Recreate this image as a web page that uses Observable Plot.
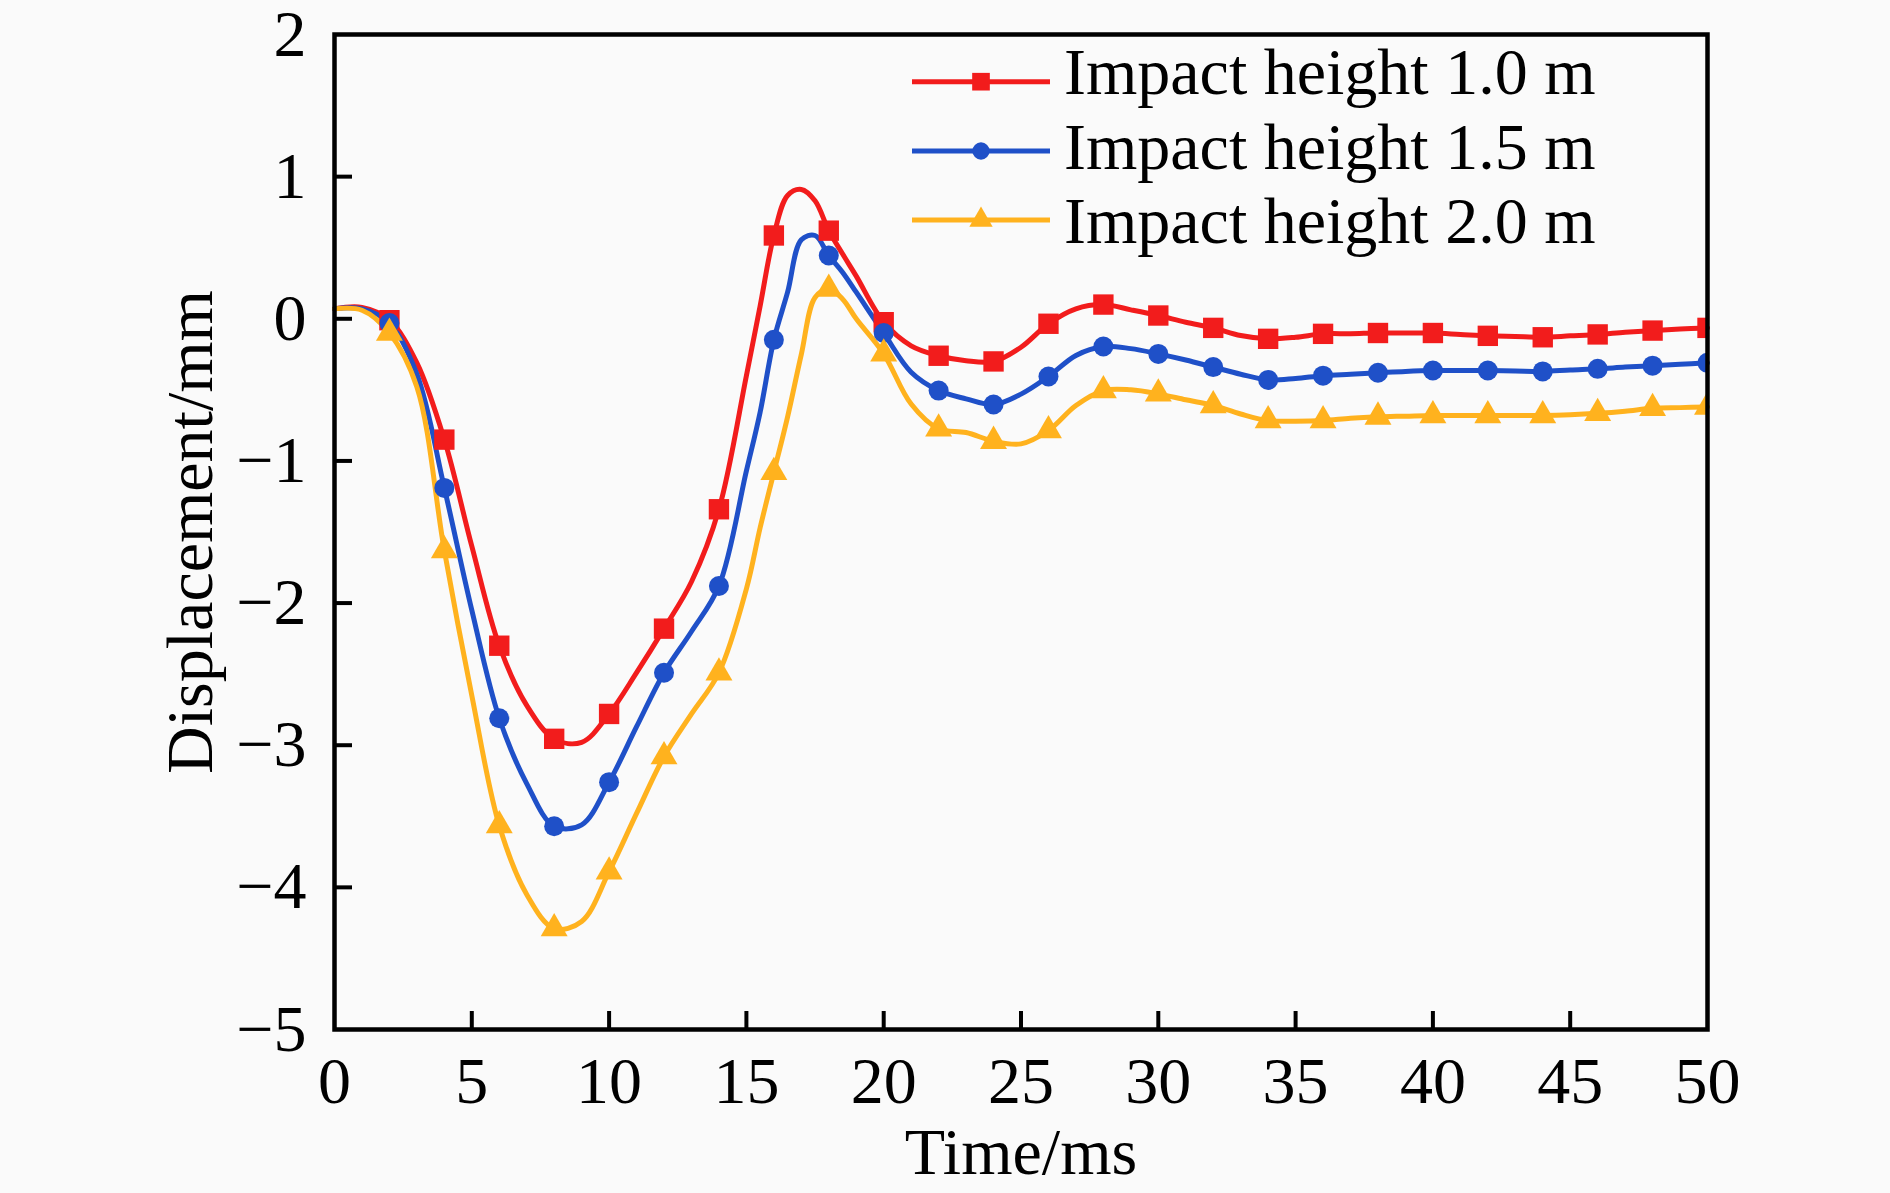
<!DOCTYPE html>
<html><head><meta charset="utf-8">
<script src="https://cdn.jsdelivr.net/npm/d3@7"></script>
<script src="https://cdn.jsdelivr.net/npm/@observablehq/plot@0.6"></script>
<style>html,body{margin:0;padding:0;background:#fafafa;} svg{display:block;}</style>
</head><body><div id="chart"></div>
<script>
// time axis (ms)
const time = [0,1,2,3,4,5,6,7,8,9,10,11,12,13,14,15,15.5,16,16.5,17,17.5,18,18.5,19,
  20,21,22,23,24,25,26,27,28,29,30,31,32,33,34,35,36,37,38,39,40,41,42,43,44,45,46,47,48,49,50];
// Displacement (mm)
const h10 = [0.07,0.08,-0.01,-0.31,-0.85,-1.60,-2.30,-2.72,-2.955,-2.98,-2.78,-2.49,-2.18,-1.85,-1.34,-0.40,
  0.09,0.586,0.867,0.91,0.83,0.62,0.457,0.30,
  -0.024,-0.19,-0.26,-0.295,-0.30,-0.20,-0.035,0.07,0.10,0.063,0.023,-0.024,-0.064,-0.118,-0.141,-0.13,
  -0.106,-0.105,-0.10,-0.10,-0.10,-0.11,-0.12,-0.125,-0.13,-0.12,-0.11,-0.095,-0.083,-0.072,-0.064];
const h15 = [0.07,0.07,-0.03,-0.39,-1.19,-2.05,-2.81,-3.27,-3.57,-3.56,-3.26,-2.87,-2.49,-2.20,-1.88,-1.07,
  -0.657,-0.148,0.187,0.556,0.586,0.445,0.328,0.187,
  -0.10,-0.376,-0.505,-0.563,-0.603,-0.53,-0.406,-0.258,-0.195,-0.21,-0.247,-0.29,-0.34,-0.39,-0.43,-0.42,
  -0.40,-0.39,-0.38,-0.37,-0.364,-0.364,-0.364,-0.367,-0.37,-0.36,-0.352,-0.34,-0.33,-0.32,-0.31];
const h20 = [0.07,0.06,-0.10,-0.48,-1.63,-2.65,-3.565,-4.05,-4.29,-4.24,-3.89,-3.48,-3.08,-2.78,-2.49,-1.90,
  -1.47,-1.08,-0.69,-0.25,0.15,0.21,0.14,0.00,
  -0.246,-0.60,-0.774,-0.80,-0.861,-0.88,-0.786,-0.61,-0.505,-0.50,-0.528,-0.57,-0.61,-0.67,-0.716,-0.72,
  -0.716,-0.70,-0.69,-0.685,-0.68,-0.68,-0.68,-0.68,-0.68,-0.675,-0.665,-0.65,-0.63,-0.625,-0.62];

const seriesNames = ["Impact height 1.0 m","Impact height 1.5 m","Impact height 2.0 m"];
const seriesColors = ["#f21c1c","#1f50c8","#ffb21e"];
const seriesSymbols = ["square","circle","triangle"];
const seriesR = [11.5, 10, 10];
const xTicks = [0,5,10,15,20,25,30,35,40,45,50];
const yTicks = [-5,-4,-3,-2,-1,0,1,2];
const xLabel = "Time/ms";
const yLabel = "Displacement/mm";

const W = 1890, H = 1193;
const mL = 334, mR = 183, mT = 34, mB = 164;
const font = "'Liberation Serif','Times New Roman',serif";
const fs = 66;
const tickLen = 18;
const lw = 5;

const values = [h10, h15, h20];
const rows = [];
values.forEach((vals, i) => vals.forEach((v, j) => rows.push({t: time[j], v, s: seriesNames[i]})));
const markerRows = rows.filter(d => d.t > 0 && d.t % 2 === 0);
const fmt = d => d < 0 ? "\u2212" + Math.abs(d) : String(d);

const marks = [];
for (let i = 0; i < 3; i++) {
  marks.push(Plot.line(rows.filter(d => d.s === seriesNames[i]), {
    x: "t", y: "v", stroke: "s", strokeWidth: lw, curve: "catmull-rom"
  }));
}
for (let i = 0; i < 3; i++) {
  marks.push(Plot.dot(markerRows.filter(d => d.s === seriesNames[i]), {
    x: "t", y: "v", fill: "s", symbol: "s", r: seriesR[i], stroke: "none", clip: true
  }));
}

const frameW = W - mL - mR, frameH = H - mT - mB;

const chart = Plot.plot({
  width: W, height: H,
  marginLeft: mL, marginRight: mR, marginTop: mT, marginBottom: mB,
  style: {background: "#fafafa", fontFamily: font, color: "black", overflow: "visible"},
  x: {domain: [0, 50]},
  y: {domain: [-5, 2]},
  color: {domain: seriesNames, range: seriesColors},
  symbol: {domain: seriesNames, range: seriesSymbols},
  marks: [
    ...marks,
    Plot.tickX(xTicks.slice(1, -1), {x: d => d, stroke: "black", strokeWidth: 4, insetTop: frameH - tickLen}),
    Plot.tickY(yTicks.slice(1, -1), {y: d => d, stroke: "black", strokeWidth: 4, insetRight: frameW - tickLen}),
    Plot.frame({stroke: "black", strokeWidth: 4.5}),
    Plot.axisX({ticks: xTicks, tickSize: 0, tickPadding: 27, tickFormat: fmt, fontSize: fs, fontFamily: font, label: null}),
    Plot.axisY({ticks: yTicks, tickSize: 0, tickPadding: 28, tickFormat: fmt, fontSize: fs, fontFamily: font, label: null}),
    Plot.text([xLabel], {text: d => d, frameAnchor: "bottom", dy: 123, lineAnchor: "middle", textAnchor: "middle", fontSize: fs, fontFamily: font, fill: "black"}),
    Plot.text([yLabel], {text: d => d, frameAnchor: "left", dx: -144, rotate: -90, lineAnchor: "middle", textAnchor: "middle", fontSize: fs, fontFamily: font, fill: "black"})
  ]
});

// legend
const svg = d3.select(chart);
const lineYs = [81.7, 151, 220];
const textYs = [94, 168.5, 243];
const lg = svg.append("g").attr("text-anchor", "start");
seriesNames.forEach((name, i) => {
  lg.append("line").attr("x1", 912).attr("x2", 1050).attr("y1", lineYs[i]).attr("y2", lineYs[i])
    .attr("stroke", seriesColors[i]).attr("stroke-width", lw);
  const sym = {square: d3.symbolSquare, circle: d3.symbolCircle, triangle: d3.symbolTriangle}[seriesSymbols[i]];
  lg.append("path").attr("d", d3.symbol(sym, Math.PI * seriesR[i] * seriesR[i] * 0.75)())
    .attr("transform", `translate(981,${lineYs[i]})`).attr("fill", seriesColors[i]);
  lg.append("text").attr("x", 1064).attr("y", textYs[i]).attr("font-size", fs)
    .attr("text-anchor", "start")
    .attr("font-family", font).attr("fill", "black").text(name);
});

document.getElementById("chart").appendChild(chart);
</script>
</body></html>
